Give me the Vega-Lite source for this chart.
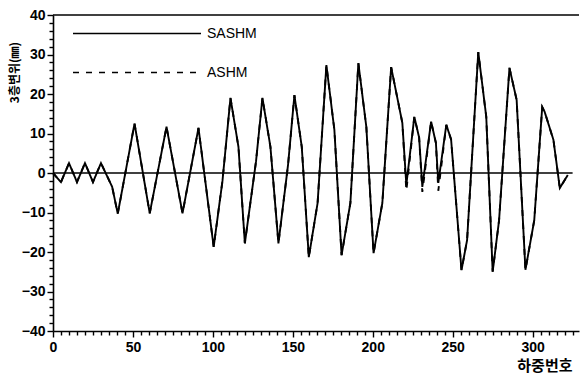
{
  "$schema": "https://vega.github.io/schema/vega-lite/v6.json",
  "width": 526,
  "height": 316,
  "autosize": {"type": "none"},
  "padding": {"left": 53, "top": 15, "right": 2, "bottom": 47},
  "background": "white",
  "config": {
    "view": {"stroke": null},
    "axis": {"grid": false, "domainColor": "black", "domainWidth": 1.6, "tickColor": "black", "tickWidth": 1.4,
      "labelFont": "Liberation Sans", "labelFontWeight": "bold", "labelFontSize": 14, "labelColor": "black",
      "titleFont": "Noto Sans CJK KR", "titleFontWeight": "bold", "titleColor": "black"},
    "legend": {"labelFont": "Liberation Sans", "labelFontSize": 14, "labelColor": "black"}
  },
  "encoding": {
    "x": {"field": "x", "type": "quantitative", "scale": {"domain": [0, 329], "nice": false},
      "axis": {"values": [0,5,10,15,20,25,30,35,40,45,50,55,60,65,70,75,80,85,90,95,100,105,110,115,120,125,130,135,140,145,150,155,160,165,170,175,180,185,190,195,200,205,210,215,220,225,230,235,240,245,250,255,260,265,270,275,280,285,290,295,300,305,310,315,320,325],
        "labelExpr": "datum.value % 50 === 0 ? datum.label : ''",
        "labelOverlap": false, "labelBound": false, "labelFlush": false,
        "tickSize": {"condition": {"test": "datum.value % 50 === 0", "value": 6}, "value": 4},
        "labelPadding": 3,
        "title": "하중번호", "titleFontSize": 15, "titleX": 519, "titleY": 34, "titleAlign": "right", "titleBaseline": "middle", "titleAnchor": null}},
    "y": {"field": "y", "type": "quantitative", "scale": {"domain": [-40, 40], "nice": false},
      "axis": {"values": [-40,-38,-36,-34,-32,-30,-28,-26,-24,-22,-20,-18,-16,-14,-12,-10,-8,-6,-4,-2,0,2,4,6,8,10,12,14,16,18,20,22,24,26,28,30,32,34,36,38,40],
        "labelExpr": "datum.value % 10 === 0 ? datum.label : ''",
        "labelOverlap": false, "labelBound": false, "labelFlush": false,
        "tickSize": {"condition": {"test": "datum.value % 10 === 0", "value": 6}, "value": 4},
        "labelPadding": 2,
        "title": "3층변위(㎜)", "titleFontSize": 12, "titleX": -39, "titleY": 57, "titleAngle": -90, "titleAlign": "center", "titleBaseline": "middle"}}
  },
  "layer": [
    {
      "data": {"values": [{"x": 0, "x2": 325, "y": 0}]},
      "mark": {"type": "rule", "color": "black", "strokeWidth": 1.6},
      "encoding": {"x2": {"field": "x2"}}
    },
    {
      "data": {"values": [{"x": 0, "x2": 329, "y": 40}]},
      "mark": {"type": "rule", "color": "black", "strokeWidth": 1.6},
      "encoding": {"x2": {"field": "x2"}}
    },
    {
      "data": {"values": [
        {"s":"ASHM","x":0,"y":0},{"s":"ASHM","x":5,"y":-2.3},{"s":"ASHM","x":10,"y":2.5},{"s":"ASHM","x":15,"y":-2.3},{"s":"ASHM","x":20,"y":2.5},{"s":"ASHM","x":25,"y":-2.3},{"s":"ASHM","x":30,"y":2.5},{"s":"ASHM","x":37,"y":-3.5},{"s":"ASHM","x":40.5,"y":-10.3},{"s":"ASHM","x":51,"y":12.5},{"s":"ASHM","x":60.5,"y":-10.2},{"s":"ASHM","x":71,"y":11.7},{"s":"ASHM","x":81,"y":-10.2},{"s":"ASHM","x":91,"y":11.4},{"s":"ASHM","x":100.5,"y":-18.7},{"s":"ASHM","x":106,"y":-2},{"s":"ASHM","x":111,"y":19},{"s":"ASHM","x":116,"y":6.6},{"s":"ASHM","x":120,"y":-17.8},{"s":"ASHM","x":127,"y":3},{"s":"ASHM","x":131,"y":19},{"s":"ASHM","x":136,"y":6.6},{"s":"ASHM","x":141,"y":-17.8},{"s":"ASHM","x":147,"y":2},{"s":"ASHM","x":151,"y":19.7},{"s":"ASHM","x":155.6,"y":6.6},{"s":"ASHM","x":160,"y":-21.3},{"s":"ASHM","x":165.5,"y":-7.6},{"s":"ASHM","x":171,"y":27.3},{"s":"ASHM","x":176,"y":10.9},{"s":"ASHM","x":180.5,"y":-20.8},{"s":"ASHM","x":186,"y":-7.6},{"s":"ASHM","x":191,"y":27.8},{"s":"ASHM","x":196,"y":11.6},{"s":"ASHM","x":200.5,"y":-20.3},{"s":"ASHM","x":206,"y":-7.6},{"s":"ASHM","x":211.5,"y":26.8},{"s":"ASHM","x":218.5,"y":12.7},{"s":"ASHM","x":221,"y":-4.5},{"s":"ASHM","x":226,"y":14.2},{"s":"ASHM","x":229,"y":9},{"s":"ASHM","x":231,"y":-4.8},{"s":"ASHM","x":236.5,"y":13},{"s":"ASHM","x":239.5,"y":7.6},{"s":"ASHM","x":241,"y":-4.5},{"s":"ASHM","x":246,"y":12.2},{"s":"ASHM","x":249,"y":8.5},{"s":"ASHM","x":255.5,"y":-24.6},{"s":"ASHM","x":259,"y":-17},{"s":"ASHM","x":266,"y":30.6},{"s":"ASHM","x":271,"y":14.2},{"s":"ASHM","x":275,"y":-25},{"s":"ASHM","x":279,"y":-12},{"s":"ASHM","x":285.5,"y":26.6},{"s":"ASHM","x":290,"y":18.5},{"s":"ASHM","x":295.5,"y":-24.5},{"s":"ASHM","x":301,"y":-12},{"s":"ASHM","x":306,"y":16.7},{"s":"ASHM","x":307.5,"y":15.5},{"s":"ASHM","x":313,"y":8.4},{"s":"ASHM","x":317,"y":-3.8},{"s":"ASHM","x":322,"y":-0.5},
        {"s":"SASHM","x":0,"y":0},{"s":"SASHM","x":5,"y":-2.3},{"s":"SASHM","x":10,"y":2.5},{"s":"SASHM","x":15,"y":-2.3},{"s":"SASHM","x":20,"y":2.5},{"s":"SASHM","x":25,"y":-2.3},{"s":"SASHM","x":30,"y":2.5},{"s":"SASHM","x":37,"y":-3.5},{"s":"SASHM","x":40.5,"y":-10.3},{"s":"SASHM","x":51,"y":12.5},{"s":"SASHM","x":60.5,"y":-10.2},{"s":"SASHM","x":71,"y":11.7},{"s":"SASHM","x":81,"y":-10.2},{"s":"SASHM","x":91,"y":11.4},{"s":"SASHM","x":100.5,"y":-18.7},{"s":"SASHM","x":106,"y":-2},{"s":"SASHM","x":111,"y":19},{"s":"SASHM","x":116,"y":6.6},{"s":"SASHM","x":120,"y":-17.8},{"s":"SASHM","x":127,"y":3},{"s":"SASHM","x":131,"y":19},{"s":"SASHM","x":136,"y":6.6},{"s":"SASHM","x":141,"y":-17.8},{"s":"SASHM","x":147,"y":2},{"s":"SASHM","x":151,"y":19.7},{"s":"SASHM","x":155.6,"y":6.6},{"s":"SASHM","x":160,"y":-21.3},{"s":"SASHM","x":165.5,"y":-7.6},{"s":"SASHM","x":171,"y":27.3},{"s":"SASHM","x":176,"y":10.9},{"s":"SASHM","x":180.5,"y":-20.8},{"s":"SASHM","x":186,"y":-7.6},{"s":"SASHM","x":191,"y":27.8},{"s":"SASHM","x":196,"y":11.6},{"s":"SASHM","x":200.5,"y":-20.3},{"s":"SASHM","x":206,"y":-7.6},{"s":"SASHM","x":211.5,"y":26.8},{"s":"SASHM","x":218.5,"y":12.7},{"s":"SASHM","x":221,"y":-3},{"s":"SASHM","x":226,"y":14.2},{"s":"SASHM","x":229,"y":9},{"s":"SASHM","x":231,"y":-3.5},{"s":"SASHM","x":236.5,"y":13},{"s":"SASHM","x":239.5,"y":7.6},{"s":"SASHM","x":241,"y":-2.5},{"s":"SASHM","x":246,"y":12.2},{"s":"SASHM","x":249,"y":8.5},{"s":"SASHM","x":255.5,"y":-24.6},{"s":"SASHM","x":259,"y":-17},{"s":"SASHM","x":266,"y":30.6},{"s":"SASHM","x":271,"y":14.2},{"s":"SASHM","x":275,"y":-25},{"s":"SASHM","x":279,"y":-12},{"s":"SASHM","x":285.5,"y":26.6},{"s":"SASHM","x":290,"y":18.5},{"s":"SASHM","x":295.5,"y":-24.5},{"s":"SASHM","x":301,"y":-12},{"s":"SASHM","x":306,"y":16.7},{"s":"SASHM","x":307.5,"y":15.5},{"s":"SASHM","x":313,"y":8.4},{"s":"SASHM","x":317,"y":-3.8},{"s":"SASHM","x":322,"y":-0.5}
      ]},
      "mark": {"type": "line", "color": "black", "strokeWidth": 1.9},
      "encoding": {
        "strokeDash": {"field": "s", "type": "nominal",
          "scale": {"domain": ["SASHM", "ASHM"], "range": [[1, 0], [6, 7]]},
          "legend": {"title": null, "orient": "none", "legendX": 19, "legendY": 0, "symbolType": "stroke", "symbolSize": 16384,
            "symbolStrokeColor": "black", "symbolStrokeWidth": 1.4, "clipHeight": 37, "rowPadding": 2, "labelOffset": 5, "padding": 0}},
        "order": {"field": "x", "type": "quantitative"}
      }
    }
  ]
}
